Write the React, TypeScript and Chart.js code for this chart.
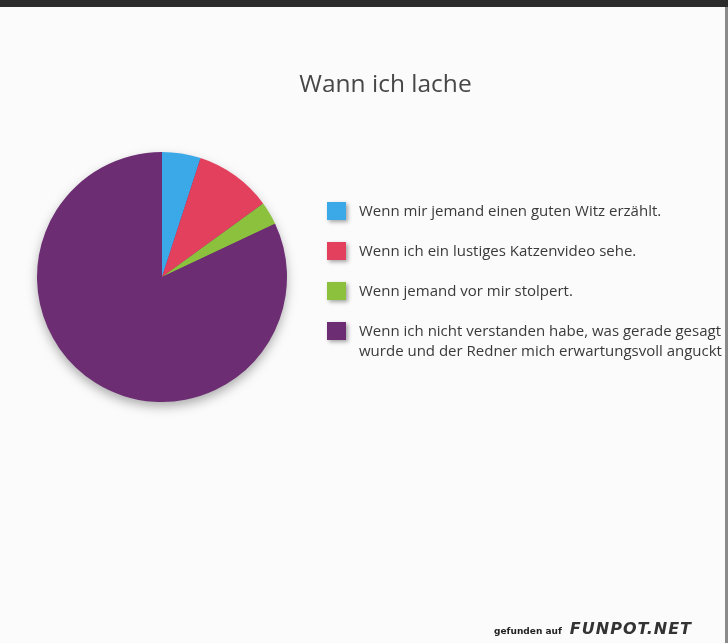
import React, { useEffect, useRef } from "react";
import { Chart, registerables } from "chart.js";

Chart.register(...registerables);

const chartTitle = "Wann ich lache";
const categories: (string | string[])[] = [
  "Wenn mir jemand einen guten Witz erzählt.",
  "Wenn ich ein lustiges Katzenvideo sehe.",
  "Wenn jemand vor mir stolpert.",
  [
    "Wenn ich nicht verstanden habe, was gerade gesagt",
    "wurde und der Redner mich erwartungsvoll anguckt",
  ],
];
const shares = [5, 10, 3, 82];
const sliceColors = ["#3ba9e8", "#e2405d", "#8cc13e", "#6c2d73"];

const FONT = "'Open Sans', sans-serif";

const pieShadow = {
  id: "pieShadow",
  beforeDatasetsDraw(chart: any) {
    const meta = chart.getDatasetMeta(0);
    const arc = meta.data[0];
    if (!arc) return;
    const { x, y, outerRadius } = arc.getProps(["x", "y", "outerRadius"], true);
    const ctx = chart.ctx;
    ctx.save();
    ctx.shadowColor = "rgba(0,0,0,0.35)";
    ctx.shadowBlur = 12;
    ctx.shadowOffsetX = 0;
    ctx.shadowOffsetY = 5;
    ctx.beginPath();
    ctx.arc(x, y, outerRadius - 1, 0, Math.PI * 2);
    ctx.fillStyle = sliceColors[3];
    ctx.fill();
    ctx.restore();
  },
};

const pageTitle = {
  id: "pageTitle",
  afterDraw(chart: any) {
    const ctx = chart.ctx;
    ctx.save();
    ctx.fillStyle = "#474747";
    ctx.font = `24.5px ${FONT}`;
    ctx.textAlign = "center";
    ctx.textBaseline = "alphabetic";
    ctx.fillText(chartTitle, 385.5, 92);
    ctx.restore();
  },
};

const sideLegend = {
  id: "sideLegend",
  afterDraw(chart: any) {
    const ctx = chart.ctx;
    const labels = chart.data.labels as (string | string[])[];
    const colors = chart.data.datasets[0].backgroundColor as string[];
    const boxX = 327;
    const boxW = 19;
    const boxH = 18;
    const textX = 359;
    const firstY = 211;
    const step = 40;
    const lineH = 20;
    ctx.save();
    labels.forEach((lab, i) => {
      const cy = firstY + i * step;
      ctx.save();
      ctx.shadowColor = "rgba(0,0,0,0.35)";
      ctx.shadowBlur = 4;
      ctx.shadowOffsetX = 2;
      ctx.shadowOffsetY = 2;
      ctx.fillStyle = colors[i];
      ctx.fillRect(boxX, cy - boxH / 2, boxW, boxH);
      ctx.restore();
      const lines = Array.isArray(lab) ? lab : [lab];
      ctx.fillStyle = "#3a3a3a";
      ctx.font = `15px ${FONT}`;
      ctx.textBaseline = "middle";
      ctx.textAlign = "left";
      lines.forEach((t, j) => {
        ctx.fillText(t, textX, cy + 1 + j * lineH);
      });
    });
    ctx.restore();
  },
};

export default function App() {
  const ref = useRef<HTMLCanvasElement | null>(null);
  useEffect(() => {
    if (!ref.current) return;
    const chart = new Chart(ref.current, {
      type: "pie",
      data: {
        labels: categories as any,
        datasets: [
          {
            data: shares,
            backgroundColor: sliceColors,
            borderWidth: 0,
            hoverOffset: 0,
            offset: 0,
          },
        ],
      },
      options: {
        responsive: false,
        animation: false,
        events: [],
        layout: { padding: { top: 152, left: 37, right: 441, bottom: 241 } },
        plugins: {
          legend: { display: false },
          tooltip: { enabled: false },
          title: { display: false },
        },
      },
      plugins: [pieShadow, pageTitle, sideLegend],
    });
    return () => chart.destroy();
  }, []);

  return (
    <div
      style={{
        position: "fixed",
        left: 0,
        top: 0,
        width: 728,
        height: 643,
        overflow: "hidden",
        background: "#fbfbfb",
      }}
    >
      <canvas ref={ref} width={728} height={643} style={{ display: "block" }} />
      <div
        style={{
          position: "absolute",
          left: 0,
          top: 0,
          width: 728,
          height: 7,
          background: "#2c2c2c",
        }}
      />
      <div
        style={{
          position: "absolute",
          right: 0,
          top: 7,
          width: 3,
          height: 636,
          background: "#8a8a8a",
        }}
      />
      <div
        style={{
          position: "absolute",
          right: 36,
          bottom: 5,
          fontFamily: "'DejaVu Sans', sans-serif",
          display: "flex",
          alignItems: "baseline",
          gap: 8,
        }}
      >
        <span style={{ fontSize: 9, fontWeight: "bold", color: "#222" }}>gefunden auf</span>
        <span
          style={{
            fontSize: 16,
            fontWeight: "bold",
            fontStyle: "italic",
            color: "#333",
            letterSpacing: 1,
          }}
        >
          FUNPOT.NET
        </span>
      </div>
    </div>
  );
}
